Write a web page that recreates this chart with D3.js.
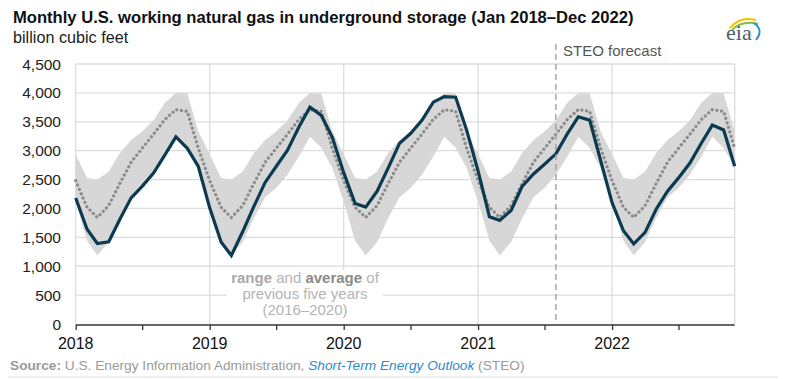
<!DOCTYPE html>
<html><head><meta charset="utf-8">
<script src="https://cdn.jsdelivr.net/npm/d3@7"></script>
<style>
body{margin:0;background:#fff;}
svg{font-family:"Liberation Sans",Arial,sans-serif;}
</style></head>
<body><svg id="c" width="786" height="379"></svg>
<script>
// ---------------- data ----------------
const startMonth = new Date(2018, 0, 1);
const endMonth = new Date(2022, 11, 1);
const forecastStart = new Date(2021, 7, 1);
const yTicks = [0, 500, 1000, 1500, 2000, 2500, 3000, 3500, 4000, 4500];
const yearLabels = ["2018", "2019", "2020", "2021", "2022"];

// working gas in storage, billion cubic feet (Jan 2018 – Dec 2022)
const storage = [
  2180, 1640, 1394, 1423, 1810, 2183, 2383, 2611, 2926, 3240, 3040, 2726,
  2010, 1420, 1185, 1600, 2030, 2450, 2726, 3010, 3410, 3754, 3610, 3230,
  2620, 2086, 2023, 2297, 2697, 3126, 3297, 3526, 3840, 3937, 3926, 3354,
  2650, 1857, 1794, 1966, 2383, 2597, 2765, 2945, 3290, 3586, 3529, 2826,
  2100, 1614, 1386, 1586, 1986, 2300, 2529, 2786, 3129, 3443, 3357, 2729
];
// previous five-year (2016–2020) range and average
const rangeHigh = [
  2940, 2525, 2500, 2640, 2955, 3185, 3330, 3525, 3830, 4000, 3990, 3330,
  2940, 2525, 2500, 2640, 2955, 3185, 3330, 3525, 3830, 4000, 3990, 3330,
  2940, 2525, 2500, 2640, 2955, 3185, 3330, 3525, 3830, 4000, 3990, 3330,
  2940, 2525, 2500, 2640, 2955, 3185, 3330, 3525, 3830, 4000, 3990, 3330,
  2940, 2525, 2500, 2640, 2955, 3185, 3330, 3525, 3830, 4000, 3990, 3330
];
const rangeLow = [
  2120, 1440, 1185, 1420, 1830, 2195, 2355, 2585, 2900, 3240, 3050, 2700,
  2120, 1440, 1185, 1420, 1830, 2195, 2355, 2585, 2900, 3240, 3050, 2700,
  2120, 1440, 1185, 1420, 1830, 2195, 2355, 2585, 2900, 3240, 3050, 2700,
  2120, 1440, 1185, 1420, 1830, 2195, 2355, 2585, 2900, 3240, 3050, 2700,
  2120, 1440, 1185, 1420, 1830, 2195, 2355, 2585, 2900, 3240, 3050, 2700
];
const fiveYearAvg = [
  2480, 2020, 1845, 2050, 2430, 2800, 3040, 3285, 3540, 3710, 3680, 3040,
  2480, 2020, 1845, 2050, 2430, 2800, 3040, 3285, 3540, 3710, 3680, 3040,
  2480, 2020, 1845, 2050, 2430, 2800, 3040, 3285, 3540, 3710, 3680, 3040,
  2480, 2020, 1845, 2050, 2430, 2800, 3040, 3285, 3540, 3710, 3680, 3040,
  2480, 2020, 1845, 2050, 2430, 2800, 3040, 3285, 3540, 3710, 3680, 3040
];

const months = d3.timeMonth.range(startMonth, d3.timeMonth.offset(endMonth, 1));
const rows = months.map((d, i) => ({date: d, v: storage[i], hi: rangeHigh[i], lo: rangeLow[i], avg: fiveYearAvg[i]}));

// ---------------- layout ----------------
const svg = d3.select("#c");
const L = 75.7, R = 734.7, T = 64, B = 324;
const x = d3.scaleTime().domain([startMonth, endMonth]).range([L, R]);
const y = d3.scaleLinear().domain([0, 4500]).range([B, T]);

// title
svg.append("text").attr("x", 13).attr("y", 23).attr("font-size", 16.6).attr("font-weight", "bold").attr("fill", "#111")
  .text("Monthly U.S. working natural gas in underground storage (Jan 2018\u2013Dec 2022)");
svg.append("text").attr("x", 13).attr("y", 43).attr("font-size", 16.2).attr("fill", "#222").text("billion cubic feet");

// eia logo
const logo = svg.append("g").attr("transform", "translate(726,14)");
logo.append("path").attr("d", "M4,14 Q14,2 30,6").attr("fill", "none").attr("stroke", "#f2c200").attr("stroke-width", 2);
logo.append("path").attr("d", "M6,16 Q16,6 32,10").attr("fill", "none").attr("stroke", "#7fbf3f").attr("stroke-width", 2);
logo.append("path").attr("d", "M28,9 Q38,16 30,26").attr("fill", "none").attr("stroke", "#2b8fd6").attr("stroke-width", 2);
logo.append("text").attr("x", 0).attr("y", 26).attr("font-family", "'Liberation Serif',serif").attr("font-size", 22).attr("fill", "#4b5c6b").text("eia");

// gridlines
const grid = svg.append("g");
grid.selectAll("line.h").data(yTicks.filter(d => d > 0)).join("line")
  .attr("x1", L).attr("x2", R).attr("y1", d => y(d)).attr("y2", d => y(d))
  .attr("stroke", "#dcdcdc").attr("stroke-width", 1.3);
const yearTicks = d3.timeYear.range(startMonth, d3.timeMonth.offset(endMonth, 1));
grid.selectAll("line.v").data(yearTicks).join("line")
  .attr("x1", d => x(d)).attr("x2", d => x(d)).attr("y1", T).attr("y2", B)
  .attr("stroke", "#dcdcdc").attr("stroke-width", 1.3);
grid.append("line").attr("x1", R).attr("x2", R).attr("y1", T).attr("y2", B).attr("stroke", "#dcdcdc").attr("stroke-width", 1.3);

// band
svg.append("path").datum(rows)
  .attr("d", d3.area().x(d => x(d.date)).y0(d => y(d.lo)).y1(d => y(d.hi)))
  .attr("fill", "#d7d7d7");

// annotation box (white background) and text
svg.append("rect").attr("x", 227).attr("y", 270).attr("width", 156).attr("height", 53).attr("fill", "#fff");
const ann = svg.append("text").attr("text-anchor", "middle").attr("font-size", 15).attr("fill", "#b4b4b4");
const l1 = ann.append("tspan").attr("x", 305).attr("y", 283);
l1.append("tspan").attr("font-weight", "bold").attr("fill", "#a8a8a8").text("range");
l1.append("tspan").text(" and ");
l1.append("tspan").attr("font-weight", "bold").attr("fill", "#8a8a8a").text("average");
l1.append("tspan").text(" of");
ann.append("tspan").attr("x", 305).attr("y", 299).text("previous five years");
ann.append("tspan").attr("x", 305).attr("y", 315).text("(2016\u20132020)");

// average dotted
svg.append("path").datum(rows)
  .attr("d", d3.line().x(d => x(d.date)).y(d => y(d.avg)))
  .attr("fill", "none").attr("stroke", "#8c8c8c").attr("stroke-width", 3.2)
  .attr("stroke-linecap", "round").attr("stroke-dasharray", "0.1 4.6");

// storage line
svg.append("path").datum(rows)
  .attr("d", d3.line().x(d => x(d.date)).y(d => y(d.v)))
  .attr("fill", "none").attr("stroke", "#0c3b51").attr("stroke-width", 3.2).attr("stroke-linejoin", "miter");

// forecast divider
svg.append("line").attr("x1", x(forecastStart)).attr("x2", x(forecastStart)).attr("y1", 44).attr("y2", B)
  .attr("stroke", "#9a9a9a").attr("stroke-width", 1.3).attr("stroke-dasharray", "6 4");
svg.append("text").attr("x", 563).attr("y", 56).attr("font-size", 15).attr("fill", "#555").text("STEO forecast");

// y axis labels
svg.append("g").selectAll("text").data(yTicks).join("text")
  .attr("x", 61).attr("y", d => y(d) + 5.5).attr("text-anchor", "end").attr("font-size", 15.5).attr("fill", "#222")
  .text(d => d3.format(",")(d));

// x axis
const xAxis = d3.axisBottom(x).tickValues(d3.timeMonth.every(6).range(startMonth, d3.timeMonth.offset(endMonth, 1)))
  .tickSize(5).tickFormat("");
const gx = svg.append("g").attr("transform", `translate(0,${B + 1})`).call(xAxis);
gx.select(".domain").attr("d", `M${L},0H${R}`).attr("stroke", "#333").attr("stroke-width", 1.5);
gx.selectAll(".tick line").attr("stroke", "#333").attr("stroke-width", 1.3);
svg.append("g").selectAll("text").data(yearTicks).join("text")
  .attr("x", d => x(d)).attr("y", 349).attr("text-anchor", "middle").attr("font-size", 16).attr("fill", "#111")
  .text((d, i) => yearLabels[i]);

// source
const src = svg.append("text").attr("x", 10).attr("y", 370).attr("font-size", 13.7).attr("fill", "#9a9a9a");
src.append("tspan").attr("font-weight", "bold").text("Source:");
src.append("tspan").text(" U.S. Energy Information Administration, ");
src.append("tspan").attr("font-style", "italic").attr("fill", "#2a8bd0").text("Short-Term Energy Outlook");
src.append("tspan").text(" (STEO)");
svg.append("line").attr("x1", 8).attr("x2", 778).attr("y1", 377).attr("y2", 377).attr("stroke", "#e0e0e0").attr("stroke-width", 1);
</script></body></html>
